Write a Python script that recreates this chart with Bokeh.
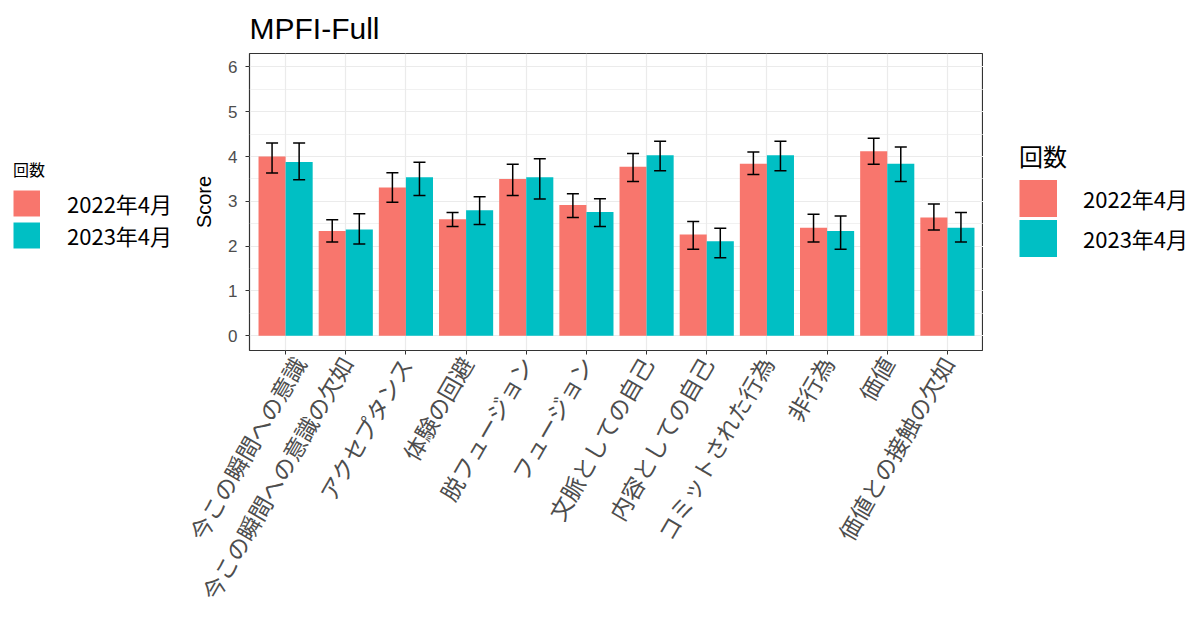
import math
from bokeh.plotting import figure
from bokeh.layouts import row
from bokeh.models import (ColumnDataSource, FactorRange, Legend, LegendItem,
                          SingleIntervalTicker, Range1d)
from bokeh.transform import dodge
from bokeh.embed import file_html
from bokeh.resources import INLINE

categories = ["今この瞬間への意識", "今この瞬間への意識の欠如", "アクセプタンス", "体験の回避",
              "脱フュージョン", "フュージョン", "文脈としての自己", "内容としての自己",
              "コミットされた行為", "非行為", "価値", "価値との接触の欠如"]
series = ["2022年4月", "2023年4月"]
mean_2022 = [4.00, 2.34, 3.31, 2.60, 3.50, 2.92, 3.77, 2.26, 3.84, 2.41, 4.12, 2.64]
upper_2022 = [4.30, 2.59, 3.64, 2.75, 3.83, 3.17, 4.07, 2.55, 4.10, 2.71, 4.41, 2.94]
lower_2022 = [3.63, 2.09, 2.98, 2.44, 3.13, 2.64, 3.44, 1.93, 3.60, 2.09, 3.83, 2.36]
mean_2023 = [3.88, 2.37, 3.54, 2.80, 3.54, 2.76, 4.03, 2.11, 4.03, 2.34, 3.84, 2.41]
upper_2023 = [4.30, 2.72, 3.87, 3.10, 3.95, 3.06, 4.34, 2.40, 4.34, 2.67, 4.21, 2.75]
lower_2023 = [3.48, 2.05, 3.13, 2.48, 3.05, 2.44, 3.68, 1.74, 3.68, 1.93, 3.44, 2.09]
colors = ["#F8766D", "#00BFC4"]

H = 625
LEFT_W = 180
RIGHT_W = 212
MAIN_W = 1195 - LEFT_W - RIGHT_W

src = ColumnDataSource(dict(cat=categories, m22=mean_2022, u22=upper_2022, l22=lower_2022,
                            m23=mean_2023, u23=upper_2023, l23=lower_2023))

xr = FactorRange(*categories, range_padding=0.1, range_padding_units="absolute")
p = figure(width=MAIN_W, height=H, x_range=xr, y_range=Range1d(-0.33, 6.30),
           output_backend="svg", toolbar_location=None, title="MPFI-Full",
           min_border_left=249 - LEFT_W, min_border_right=0, min_border_top=53,
           min_border_bottom=275)

p.title.text_font = "Liberation Sans"
p.title.text_font_size = "30px"
p.title.text_font_style = "normal"
p.title.text_color = "#000000"
p.title.offset = 0
p.title.standoff = 18

p.outline_line_color = "#333333"
p.outline_line_width = 1.2
p.background_fill_color = "white"
p.border_fill_color = "white"

p.yaxis.ticker = SingleIntervalTicker(interval=1, num_minor_ticks=2)
p.ygrid.grid_line_color = "#EBEBEB"
p.ygrid.grid_line_width = 1.2
p.ygrid.minor_grid_line_color = "#EBEBEB"
p.ygrid.minor_grid_line_width = 0.7
p.xgrid.grid_line_color = "#EBEBEB"
p.xgrid.grid_line_width = 1.2

for ax in (p.xaxis[0], p.yaxis[0]):
    ax.axis_line_color = None
    ax.major_tick_line_color = "#333333"
    ax.major_tick_out = 4
    ax.major_tick_in = 0
    ax.minor_tick_line_color = None
    ax.major_label_text_color = "#4D4D4D"

p.yaxis.major_label_text_font = "Liberation Sans"
p.yaxis.major_label_text_font_size = "17px"
p.yaxis.major_label_standoff = 8
p.yaxis.axis_label = "Score"
p.yaxis.axis_label_text_font = "Liberation Sans"
p.yaxis.axis_label_text_font_size = "20px"
p.yaxis.axis_label_text_font_style = "normal"
p.yaxis.axis_label_text_color = "#000000"
p.yaxis.axis_label_standoff = 10

p.xaxis.major_label_text_font = "Noto Sans CJK JP"
p.xaxis.major_label_text_font_size = "23px"
p.xaxis.major_label_orientation = math.pi / 3
p.xaxis.major_label_standoff = 4

r22 = p.vbar(x=dodge("cat", -0.225, range=p.x_range), top="m22", bottom=0, width=0.45,
             source=src, fill_color=colors[0], line_color=None)
r23 = p.vbar(x=dodge("cat", 0.225, range=p.x_range), top="m23", bottom=0, width=0.45,
             source=src, fill_color=colors[1], line_color=None)

for off, lo, hi in ((-0.225, "l22", "u22"), (0.225, "l23", "u23")):
    p.segment(x0=dodge("cat", off, range=p.x_range), x1=dodge("cat", off, range=p.x_range),
              y0=lo, y1=hi, source=src, line_color="black", line_width=1.5)
    for y in (lo, hi):
        p.segment(x0=dodge("cat", off - 0.1, range=p.x_range),
                  x1=dodge("cat", off + 0.1, range=p.x_range),
                  y0=y, y1=y, source=src, line_color="black", line_width=1.5)


def legend_fig(width, loc, gw, gh, lw, title_size, title_standoff, standoff):
    # legend-only panel: its keys are zero-length strokes outside its empty view
    f = figure(width=width, height=H, output_backend="svg", toolbar_location=None,
               x_range=FactorRange(*categories), y_range=Range1d(100, 101),
               min_border=0, x_axis_location=None, y_axis_location=None)
    f.grid.visible = False
    f.outline_line_color = None
    f.background_fill_color = "white"
    f.border_fill_color = "white"
    ra = f.segment(x0="cat", x1="cat", y0="m22", y1="m22", source=src,
                   line_color=colors[0], line_width=lw, line_cap="butt")
    rb = f.segment(x0="cat", x1="cat", y0="m23", y1="m23", source=src,
                   line_color=colors[1], line_width=lw, line_cap="butt")
    lg = Legend(items=[LegendItem(label=series[0], renderers=[ra]),
                       LegendItem(label=series[1], renderers=[rb])],
                location=loc, title="回数", orientation="vertical")
    lg.title_text_font = "Noto Sans CJK JP"
    lg.title_text_font_size = title_size
    lg.title_text_font_style = "normal"
    lg.title_text_color = "#000000"
    lg.title_standoff = title_standoff
    lg.label_text_font = "Noto Sans CJK JP"
    lg.label_text_font_size = "22px"
    lg.label_text_color = "#000000"
    lg.glyph_width = gw
    lg.glyph_height = gh
    lg.label_height = gh
    lg.label_standoff = standoff
    lg.spacing = 0
    lg.padding = 0
    lg.margin = 0
    lg.border_line_color = None
    lg.background_fill_alpha = 0
    f.add_layout(lg, "center")
    return f


left = legend_fig(LEFT_W, (13, 99), 27, 28, 26, "16px", 6, 27)
right = legend_fig(RIGHT_W, (36, 92), 38, 40, 37, "24px", 5, 26)

layout = row(left, p, right, spacing=0)
open("out.html", "w").write(file_html(layout, INLINE))
